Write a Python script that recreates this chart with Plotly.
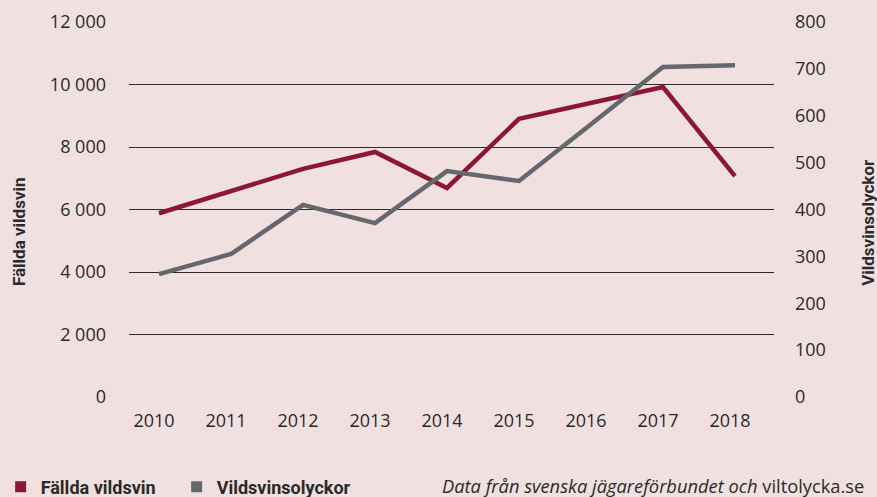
import plotly.graph_objects as go

years = [2010, 2011, 2012, 2013, 2014, 2015, 2016, 2017, 2018]
fallda_vildsvin = [5880, 6600, 7300, 7840, 6690, 8900, 9420, 9920, 7070]
vildsvinsolyckor = [262, 305, 410, 371, 482, 461, 582, 704, 708]

left_ticks = [0, 2000, 4000, 6000, 8000, 10000, 12000]
left_ticktext = ["0", "2 000", "4 000", "6 000", "8 000", "10 000", "12 000"]
right_ticks = [0, 100, 200, 300, 400, 500, 600, 700, 800]
right_ticktext = ["0", "100", "200", "300", "400", "500", "600", "700", "800"]

RED = "#8c1538"
GRAY = "#64676c"
BG = "#f0e0e0"
TXT = "#2a2a2a"
FONT = "Open Sans"
BOLDFONT = "Roboto"

fig = go.Figure()
fig.add_trace(go.Scatter(x=years, y=fallda_vildsvin, mode="lines",
                         line=dict(color=RED, width=4.5), showlegend=False, yaxis="y"))
fig.add_trace(go.Scatter(x=years, y=vildsvinsolyckor, mode="lines",
                         line=dict(color=GRAY, width=4.5), showlegend=False, yaxis="y2"))
# legend entries (square markers)
fig.add_trace(go.Scatter(x=[None], y=[None], mode="markers", name="Fällda vildsvin",
                         marker=dict(symbol="square", size=11, color=RED)))
fig.add_trace(go.Scatter(x=[None], y=[None], mode="markers", name="Vildsvinsolyckor",
                         marker=dict(symbol="square", size=11, color=GRAY)))

fig.update_layout(
    width=877, height=497,
    margin=dict(l=129, r=103, t=22, b=100, autoexpand=False),
    paper_bgcolor=BG, plot_bgcolor=BG,
    font=dict(family=FONT, size=18, color=TXT),
    xaxis=dict(range=[2009.583, 2018.542], tickvals=years, ticktext=[str(y) for y in years],
               showgrid=False, zeroline=False, showline=False, ticks="",
               ticklabelstandoff=11, ticklabelshift=-5,
               tickfont=dict(family=FONT, size=18, color=TXT)),
    yaxis=dict(range=[0, 12000], tickvals=left_ticks, ticktext=left_ticktext,
               showgrid=True, gridcolor="#2b2b2b", gridwidth=1, zeroline=False,
               showline=False, ticks="", ticklabelstandoff=22,
               tickfont=dict(family=FONT, size=18, color=TXT)),
    yaxis2=dict(range=[0, 800], tickvals=right_ticks, ticktext=right_ticktext,
                overlaying="y", side="right", showgrid=False, zeroline=False,
                showline=False, ticks="", ticklabelstandoff=20,
                tickfont=dict(family=FONT, size=18, color=TXT)),
    showlegend=True,
    legend=dict(orientation="h", x=-0.199, xanchor="left", y=-0.24, yanchor="middle",
                bgcolor="rgba(0,0,0,0)", entrywidth=131, entrywidthmode="pixels",
                font=dict(family=BOLDFONT, size=18, color=TXT, weight="bold"),
                itemwidth=30, tracegroupgap=0),
    annotations=[
        dict(text="<b>Fällda vildsvin</b>", textangle=-90, xref="paper", yref="paper",
             x=-0.1705, y=0.44, showarrow=False, xanchor="center", yanchor="middle",
             font=dict(family=BOLDFONT, size=17, color=TXT)),
        dict(text="<b>Vildsvinsolyckor</b>", textangle=-90, xref="paper", yref="paper",
             x=1.1457, y=0.467, showarrow=False, xanchor="center", yanchor="middle",
             font=dict(family=BOLDFONT, size=17, color=TXT)),
        dict(text="<i>Data från svenska jägareförbundet och</i> viltolycka.se",
             xref="paper", yref="paper", x=1.142, y=-0.236, showarrow=False,
             xanchor="right", yanchor="middle",
             font=dict(family=FONT, size=18.3, color=TXT)),
    ],
)

fig.write_html("out.html", config={"displayModeBar": False},
               post_script="document.body.style.margin='0';")
